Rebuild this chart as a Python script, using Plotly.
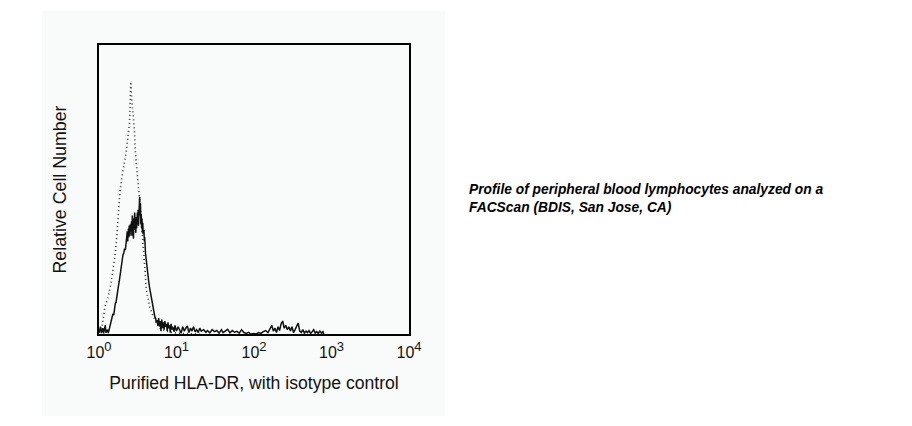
import plotly.graph_objects as go

# HLA-DR (solid) histogram: position in decades, relative count (%)
hla_dec = [0.00,0.02,0.03,0.05,0.06,0.08,0.09,0.11,0.12,0.14,0.155,0.17,0.18,0.19,0.20,0.21,0.22,0.23,0.24,0.25,
           0.26,0.27,0.28,0.29,0.30,0.31,0.32,0.33,0.34,0.35,0.36,0.365,0.37,0.38,0.385,0.39,0.40,0.405,0.41,0.42,
           0.425,0.43,0.435,0.44,0.445,0.45,0.455,0.46,0.465,0.47,0.475,0.48,0.485,0.49,0.495,0.50,0.505,0.51,0.515,0.52,
           0.525,0.53,0.535,0.54,0.545,0.55,0.555,0.56,0.565,0.57,0.58,0.585,0.59,0.60,0.61,0.62,0.63,0.64,0.65,0.66,
           0.67,0.68,0.69,0.70,0.71,0.72,0.73,0.74,0.75,0.76,0.77,0.78,0.79,0.80,0.81,0.82,0.83,0.84,0.85,0.86,
           0.87,0.88,0.89,0.90,0.91,0.92,0.93,0.94,0.95,0.97,0.98,1.00,1.02,1.04,1.06,1.08,1.10,1.12,1.14,1.16,
           1.18,1.20,1.22,1.24,1.26,1.28,1.30,1.32,1.35,1.38,1.40,1.43,1.46,1.49,1.52,1.55,1.58,1.60,1.63,1.66,
           1.69,1.72,1.75,1.78,1.81,1.84,1.87,1.90,1.93,1.96,2.00,2.03,2.06,2.09,2.12,2.15,2.18,2.21,2.23,2.25,
           2.27,2.29,2.31,2.33,2.35,2.37,2.39,2.41,2.43,2.45,2.47,2.49,2.51,2.53,2.55,2.57,2.59,2.61,2.63,2.65,
           2.67,2.69,2.71,2.73,2.75,2.77,2.79,2.81,2.83,2.85,2.87,2.89,2.90]
hla_cnt = [0.5,2.5,0.3,2.0,0.2,3.0,0.5,1.5,0.3,2.5,4.5,5.5,7.0,6.5,9.0,10.5,11.0,13.5,15.0,16.5,
           18.0,20.0,22.5,24.0,26.5,27.5,28.0,29.5,29.0,31.0,33.0,35.5,32.0,36.5,33.5,37.5,34.0,38.0,35.5,39.0,
           34.0,41.0,36.0,38.5,33.0,40.0,36.0,42.0,37.0,39.0,35.0,40.5,36.5,39.0,42.0,38.0,43.0,37.5,41.0,44.5,
           47.5,41.0,45.0,38.0,41.5,36.5,40.0,35.0,38.5,34.5,36.0,32.0,33.5,28.0,25.0,23.0,20.5,18.5,16.5,15.0,
           13.0,11.5,10.0,8.5,7.5,6.0,5.5,4.0,4.8,3.0,5.5,2.5,4.5,1.0,5.0,2.0,4.0,1.5,4.5,2.5,
           3.5,1.0,4.0,2.0,3.0,0.5,3.5,1.5,2.5,0.8,3.0,1.0,2.5,1.5,0.3,2.5,1.0,2.0,2.8,0.5,
           2.0,1.0,2.5,0.8,1.5,0.5,2.0,1.0,1.5,0.6,1.2,0.4,1.5,0.8,1.2,0.3,1.5,0.5,1.0,1.6,
           0.4,1.2,0.6,0.9,0.3,1.5,0.5,0.2,0.6,0.0,0.2,0.0,0.5,0.2,0.8,1.2,0.5,1.8,3.0,1.0,
           2.0,0.5,2.5,1.2,3.5,4.5,2.0,3.0,1.5,2.5,1.0,2.5,0.5,1.5,2.5,3.8,1.0,0.5,1.5,0.3,
           1.0,0.5,1.2,0.2,0.8,1.5,0.3,0.8,0.2,1.0,0.3,0.8,0.0]

# Isotype control (dotted) histogram
iso_dec = [0.00,0.034,0.077,0.12,0.154,0.184,0.205,0.226,0.248,0.269,0.29,0.312,0.333,0.355,0.376,0.393,0.40,0.41,
           0.419,0.432,0.444,0.457,0.47,0.483,0.496,0.513,0.53,0.547,0.564,0.581,0.594,0.611,0.632,0.654,0.684,
           0.718,0.752,0.786,0.846,0.93,1.06,1.3]
iso_cnt = [0.5,1.4,9.5,12.9,17.5,22.1,26.8,32.5,41.8,48.7,53.3,56.7,60.2,63.7,68.9,72.9,78.7,87.3,
           82.1,78.1,74.0,70.6,62.5,58.5,55.0,51.0,46.4,39.4,32.5,27.9,22.1,15.2,11.8,9.5,7.2,
           4.8,3.1,2.0,1.2,0.6,0.2,0.0]

tick_vals = [1, 10, 100, 1000, 10000]
tick_exps = ["0", "1", "2", "3", "4"]
tick_text = ["10<sup><span style='font-size:13px'>" + e + "</span></sup>" for e in tick_exps]

x_title = "Purified HLA-DR, with isotype control"
y_title = "Relative Cell Number"
caption = "<b><i>Profile of peripheral blood lymphocytes analyzed on a<br>FACScan (BDIS, San Jose, CA)</i></b>"

panel = "#f9fbfa"

fig = go.Figure()
fig.add_trace(go.Scatter(x=[10 ** d for d in iso_dec], y=iso_cnt, mode="lines",
                         line=dict(color="#333333", width=1.6, dash="1px,3px"), hoverinfo="skip"))
fig.add_trace(go.Scatter(x=[10 ** d for d in hla_dec], y=hla_cnt, mode="lines",
                         line=dict(color="#111111", width=1.5), hoverinfo="skip"))

fig.add_shape(type="rect", xref="paper", yref="paper", x0=-0.184, x1=1.116, y0=-0.284, y1=1.118,
              fillcolor=panel, line=dict(width=0), layer="below")

fig.add_annotation(text=caption, xref="paper", yref="paper", x=1.186, y=0.47, xanchor="left", yanchor="middle",
                   showarrow=False, align="left", font=dict(family="Liberation Sans, Arial", size=13.8, color="#000"))

fig.update_layout(
    width=896, height=410,
    margin=dict(l=91, r=495, t=37, b=84),
    paper_bgcolor="white", plot_bgcolor=panel,
    showlegend=False,
    font=dict(family="Liberation Sans, Arial", color="#111", size=15),
    xaxis=dict(type="log", range=[0, 4], tickvals=tick_vals, ticktext=tick_text, ticks="",
               showgrid=False, zeroline=False, showline=True, linecolor="black", linewidth=2, mirror=True,
               tickfont=dict(size=16), ticklabelstandoff=3,
               title=dict(text=x_title, font=dict(size=17.6), standoff=16)),
    yaxis=dict(range=[0, 100], showticklabels=False, ticks="", showgrid=False, zeroline=False,
               showline=True, linecolor="black", linewidth=2, mirror=True,
               title=dict(text=y_title, font=dict(size=17.8), standoff=26)),
)

fig.write_html("out.html")
